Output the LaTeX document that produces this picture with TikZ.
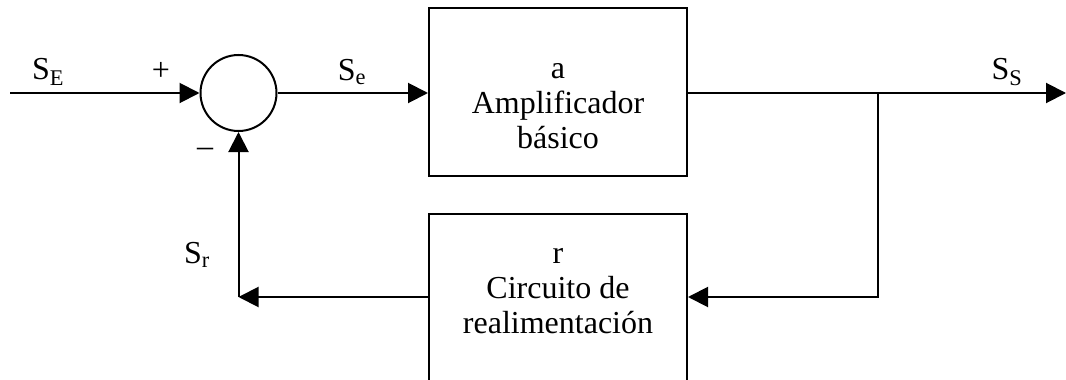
\documentclass[tikz,border=0pt]{standalone}
\usepackage{fontspec}
\setmainfont{Liberation Serif}
\usetikzlibrary{arrows.meta}
\begin{document}
\begin{tikzpicture}[x=1pt,y=-1pt,
  line width=2pt,
  arr/.style={-{Triangle[length=20pt,width=20pt]}},
  blk/.style={draw,rectangle,inner sep=0pt},
  txt/.style={font=\fontsize{32}{35}\selectfont,align=center,inner sep=0pt},
  lbl/.style={font=\fontsize{32}{35}\selectfont,inner sep=0pt}]
\useasboundingbox (0,0) rectangle (1066,380);
\clip (0,0) rectangle (1066,380);
% nodes
\node[draw,circle,minimum size=76pt,inner sep=0pt] (sum) at (238.5,93) {};
\node[blk,minimum width=258pt,minimum height=168pt] (amp) at (558,92) {};
\node[txt] (ampt) at (558,106) {a\\Amplificador\\básico};
\node[blk,minimum width=258pt,minimum height=186pt] (fb) at (558,307) {};
\node[txt] (fbt) at (558,291) {r\\Circuito de\\realimentación};
\coordinate (in) at (10,93);
\coordinate (out) at (1066,93);
\coordinate (j) at (878,93);
\coordinate (jb) at (878,297);
\coordinate (c3) at (238.5,297);
% connectors
\draw[arr] (in) -- (sum.west);
\draw[arr] (sum.east) -- (amp.west |- sum.east);
\draw[arr] (amp.east |- out) -- (out);
\draw[arr] (j) -- (jb) -- (fb.east |- jb);
\draw[arr] (fb.west |- jb) -- (c3);
\draw[arr] (c3) -- (sum.south);
% labels
\node[lbl] (lse) at (48,72) {S\textsubscript{E}};
\node[lbl] (lp) at (161,71) {+};
\node[lbl] (lm) at (205,152) {–};
\node[lbl] (lsee) at (352,72) {S\textsubscript{e}};
\node[lbl] (lss) at (1007,72) {S\textsubscript{S}};
\node[lbl] (lsr) at (197,255) {S\textsubscript{r}};
\end{tikzpicture}
\end{document}
